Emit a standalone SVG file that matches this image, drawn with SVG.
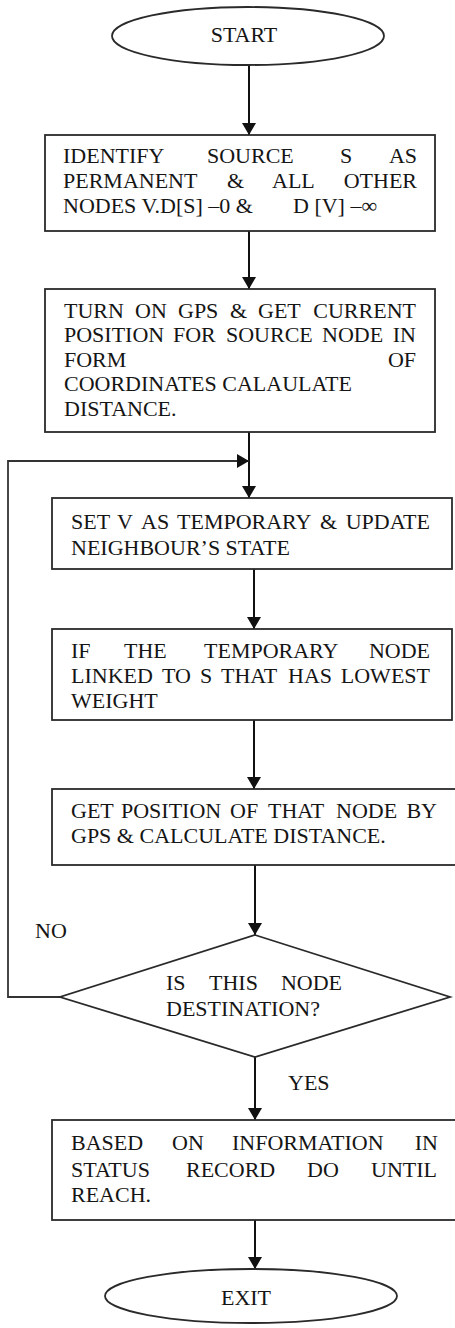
<svg xmlns="http://www.w3.org/2000/svg" width="455" height="1328" viewBox="0 0 455 1328">
<style>
.shape{fill:#fff;stroke:#2a2a2a;stroke-width:1.8}
.t{font-family:'Liberation Serif','DejaVu Serif',serif;font-size:22px;fill:#151515}
.c{fill:none;stroke:#111;stroke-width:2}
.loop{fill:none;stroke:#333;stroke-width:1.8}
</style>
<defs>
<marker id="ah" markerWidth="12" markerHeight="14" refX="12" refY="7" orient="auto" markerUnits="userSpaceOnUse">
<path d="M0,0 L12,7 L0,14 Z" fill="#111"/>
</marker>
</defs>
<rect width="455" height="1328" fill="#fff"/>
<g id="connectors">
<line class="c" x1="249" y1="65" x2="249" y2="135" marker-end="url(#ah)"/>
<line class="c" x1="249" y1="231" x2="249" y2="289" marker-end="url(#ah)"/>
<line class="c" x1="249" y1="432" x2="249" y2="498" marker-end="url(#ah)"/>
<line class="c" x1="254" y1="569" x2="254" y2="629" marker-end="url(#ah)"/>
<line class="c" x1="254" y1="720" x2="254" y2="789" marker-end="url(#ah)"/>
<line class="c" x1="255" y1="865" x2="255" y2="935" marker-end="url(#ah)"/>
<line class="c" x1="255" y1="1057" x2="255" y2="1120" marker-end="url(#ah)"/>
<line class="c" x1="255" y1="1220" x2="255" y2="1269" marker-end="url(#ah)"/>
<polyline class="loop" points="60,997 8,997 8,461 249,461" marker-end="url(#ah)"/>
<text class="t" x="35" y="938">NO</text>
<text class="t" x="288" y="1090">YES</text>
</g>
<g id="start">
<ellipse class="shape" cx="248" cy="36" rx="136" ry="29"/>
<text class="t" x="244" y="42" text-anchor="middle">START</text>
</g>
<g id="identify">
<rect class="shape" x="45" y="135" width="390" height="96"/>
<text class="t" y="163"><tspan x="63">IDENTIFY</tspan><tspan x="207">SOURCE</tspan><tspan x="340">S</tspan><tspan x="417" text-anchor="end">AS</tspan></text>
<text class="t" y="188"><tspan x="63">PERMANENT</tspan><tspan x="227">&amp;</tspan><tspan x="272">ALL</tspan><tspan x="417" text-anchor="end">OTHER</tspan></text>
<text class="t" y="213"><tspan x="63">NODES V.D[S] –0 &amp;</tspan><tspan x="293">D [V] –∞</tspan></text>
</g>
<g id="gps">
<rect class="shape" x="45" y="289" width="390" height="143"/>
<text class="t" y="318"><tspan x="64">TURN</tspan><tspan x="135">ON</tspan><tspan x="178">GPS</tspan><tspan x="230">&amp;</tspan><tspan x="258">GET</tspan><tspan x="416" text-anchor="end">CURRENT</tspan></text>
<text class="t" y="342"><tspan x="64">POSITION</tspan><tspan x="173">FOR</tspan><tspan x="226">SOURCE</tspan><tspan x="322">NODE</tspan><tspan x="416" text-anchor="end">IN</tspan></text>
<text class="t" y="367"><tspan x="64">FORM</tspan><tspan x="416" text-anchor="end">OF</tspan></text>
<text class="t" x="64" y="391">COORDINATES CALAULATE</text>
<text class="t" x="64" y="416">DISTANCE.</text>
</g>
<g id="set-temp">
<rect class="shape" x="52" y="498" width="400" height="71"/>
<text class="t" y="529"><tspan x="71">SET</tspan><tspan x="117">V</tspan><tspan x="141">AS</tspan><tspan x="177">TEMPORARY</tspan><tspan x="320">&amp;</tspan><tspan x="430" text-anchor="end">UPDATE</tspan></text>
<text class="t" x="71" y="555">NEIGHBOUR’S STATE</text>
</g>
<g id="lowest">
<rect class="shape" x="52" y="629" width="400" height="91"/>
<text class="t" y="658"><tspan x="71">IF</tspan><tspan x="124">THE</tspan><tspan x="204">TEMPORARY</tspan><tspan x="430" text-anchor="end">NODE</tspan></text>
<text class="t" y="683"><tspan x="71">LINKED</tspan><tspan x="162">TO</tspan><tspan x="200">S</tspan><tspan x="221">THAT</tspan><tspan x="288">HAS</tspan><tspan x="430" text-anchor="end">LOWEST</tspan></text>
<text class="t" x="71" y="708">WEIGHT</text>
</g>
<g id="position">
<rect class="shape" x="52" y="789" width="405" height="76"/>
<text class="t" y="818"><tspan x="71">GET</tspan><tspan x="121">POSITION</tspan><tspan x="230">OF</tspan><tspan x="268">THAT</tspan><tspan x="336">NODE</tspan><tspan x="437" text-anchor="end">BY</tspan></text>
<text class="t" x="71" y="843">GPS &amp; CALCULATE DISTANCE.</text>
</g>
<g id="destination">
<polygon class="shape" points="255,935 450,997 255,1057 60,997"/>
<text class="t" y="990"><tspan x="166">IS</tspan><tspan x="209">THIS</tspan><tspan x="342" text-anchor="end">NODE</tspan></text>
<text class="t" x="166" y="1016">DESTINATION?</text>
</g>
<g id="based">
<rect class="shape" x="52" y="1120" width="405" height="100"/>
<text class="t" y="1150"><tspan x="71">BASED</tspan><tspan x="172">ON</tspan><tspan x="232">INFORMATION</tspan><tspan x="438" text-anchor="end">IN</tspan></text>
<text class="t" y="1177"><tspan x="71">STATUS</tspan><tspan x="186">RECORD</tspan><tspan x="307">DO</tspan><tspan x="437" text-anchor="end">UNTIL</tspan></text>
<text class="t" x="71" y="1202">REACH.</text>
</g>
<g id="exit">
<ellipse class="shape" cx="251" cy="1296" rx="146" ry="27"/>
<text class="t" x="246" y="1305" text-anchor="middle">EXIT</text>
</g>
</svg>
